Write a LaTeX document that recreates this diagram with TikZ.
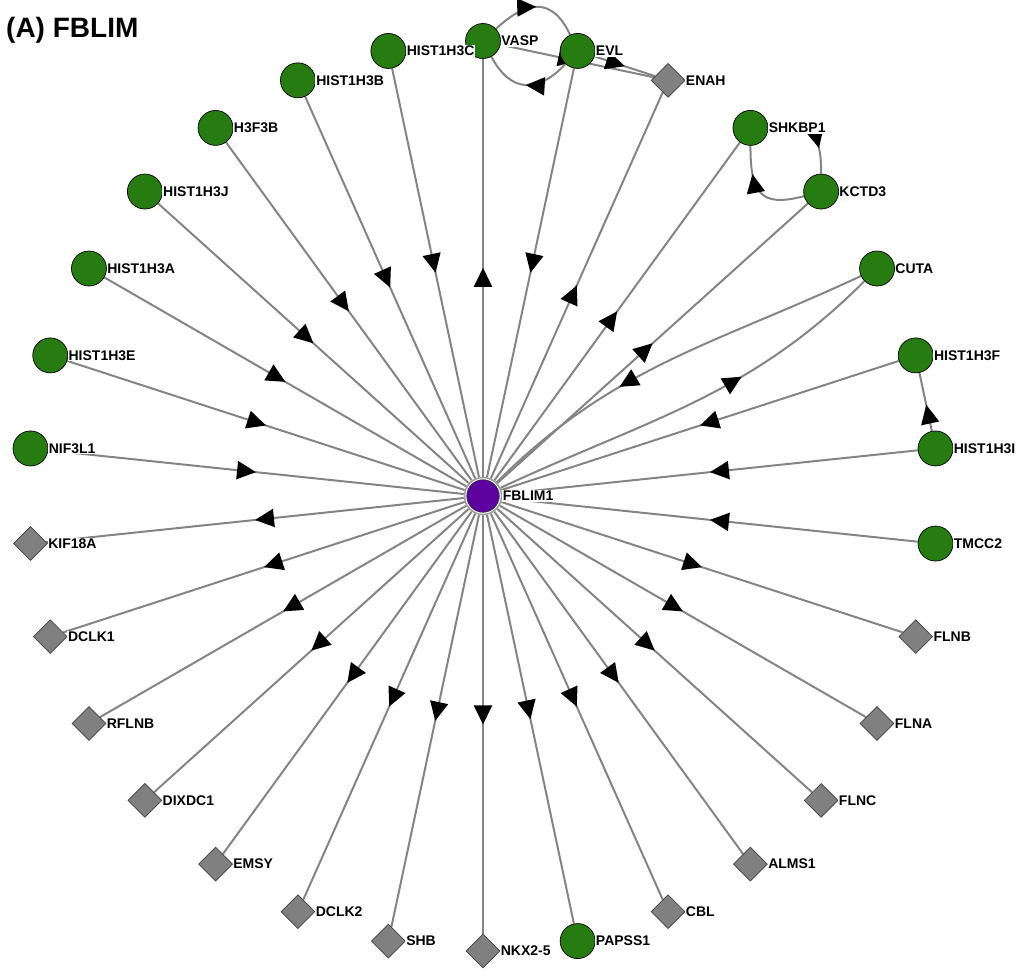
\documentclass[tikz,border=0pt]{standalone}
\usepackage{fontspec}
\setmainfont{Liberation Sans}
\usetikzlibrary{shapes.geometric,arrows.meta,decorations.markings,calc}
\pgfdeclarelayer{bg}
\pgfsetlayers{bg,main}
\definecolor{gcol}{RGB}{38,124,16}
\definecolor{dcol}{RGB}{128,128,128}
\definecolor{pcol}{RGB}{92,0,158}
\definecolor{ecol}{RGB}{132,132,132}
\begin{document}
\begin{tikzpicture}[x=1pt,y=1pt,
  gn/.style={circle, fill=gcol, draw=black, line width=0.7pt, minimum size=35pt, inner sep=0pt},
  dn/.style={diamond, fill=dcol, draw=black!75, line width=0.7pt, minimum size=34pt, inner sep=0pt},
  lbl/.style={font=\fontsize{14}{16}\selectfont\bfseries, fill=white, inner sep=0.8pt, anchor=west, xshift=-0.5pt},
  edge/.style={draw=ecol, line width=2pt},
  arr/.style={postaction={decorate, decoration={markings, mark=at position #1 with {\arrow[black]{Triangle[length=19pt,width=18pt]}}}}},
  arr/.default=0.5]
\useasboundingbox (0,0) rectangle (1017,-970);
\coordinate (C) at (483,-496);

% centre
\node[circle, minimum size=37pt, draw=gray!75, line width=1.6pt, fill=white, inner sep=0pt] (F) at (C) {};
\fill[pcol, draw=black!80, line width=0.5pt] (F.center) circle (16.3pt);

% ring nodes
\node[gn] (VASP) at ($(C)+(90:455)$) {};
\node[gn] (HIST1H3C) at ($(C)+(102:455)$) {};
\node[gn] (HIST1H3B) at ($(C)+(114:455)$) {};
\node[gn] (H3F3B) at ($(C)+(126:455)$) {};
\node[gn] (HIST1H3J) at ($(C)+(138:455)$) {};
\node[gn] (HIST1H3A) at ($(C)+(150:455)$) {};
\node[gn] (HIST1H3E) at ($(C)+(162:455)$) {};
\node[gn] (NIF3L1) at ($(C)+(174:455)$) {};
\node[dn] (KIF18A) at ($(C)+(186:455)$) {};
\node[dn] (DCLK1) at ($(C)+(198:455)$) {};
\node[dn] (RFLNB) at ($(C)+(210:455)$) {};
\node[dn] (DIXDC1) at ($(C)+(222:455)$) {};
\node[dn] (EMSY) at ($(C)+(234:455)$) {};
\node[dn] (DCLK2) at ($(C)+(246:455)$) {};
\node[dn] (SHB) at ($(C)+(258:455)$) {};
\node[dn] (NKX25) at ($(C)+(270:455)$) {};
\node[gn] (PAPSS1) at ($(C)+(282:455)$) {};
\node[dn] (CBL) at ($(C)+(294:455)$) {};
\node[dn] (ALMS1) at ($(C)+(306:455)$) {};
\node[dn] (FLNC) at ($(C)+(318:455)$) {};
\node[dn] (FLNA) at ($(C)+(330:455)$) {};
\node[dn] (FLNB) at ($(C)+(342:455)$) {};
\node[gn] (TMCC2) at ($(C)+(354:455)$) {};
\node[gn] (HIST1H3I) at ($(C)+(6:455)$) {};
\node[gn] (HIST1H3F) at ($(C)+(18:455)$) {};
\node[gn] (CUTA) at ($(C)+(30:455)$) {};
\node[gn] (KCTD3) at ($(C)+(42:455)$) {};
\node[gn] (SHKBP1) at ($(C)+(54:455)$) {};
\node[dn] (ENAH) at ($(C)+(66:455)$) {};
\node[gn] (EVL) at ($(C)+(78:455)$) {};

% edges
\begin{pgfonlayer}{bg}
\draw[edge,arr] (NIF3L1) -- (F);
\draw[edge,arr] (HIST1H3E) -- (F);
\draw[edge,arr] (HIST1H3A) -- (F);
\draw[edge,arr] (HIST1H3J) -- (F);
\draw[edge,arr] (H3F3B) -- (F);
\draw[edge,arr] (HIST1H3B) -- (F);
\draw[edge,arr] (HIST1H3C) -- (F);
\draw[edge,arr] (F) -- (VASP);
\draw[edge,arr] (EVL) -- (F);
\draw[edge,arr] (F) -- (ENAH);
\draw[edge,arr] (F) -- (SHKBP1);
\draw[edge,arr] (F) -- (KCTD3);
\draw[edge,arr=0.63] (CUTA) to[out=205,in=45] (F);
\draw[edge,arr=0.63] (F) to[out=25,in=225] (CUTA);
\draw[edge,arr] (HIST1H3F) -- (F);
\draw[edge,arr] (HIST1H3I) -- (F);
\draw[edge,arr] (TMCC2) -- (F);
\draw[edge,arr] (F) -- (FLNB);
\draw[edge,arr] (F) -- (FLNA);
\draw[edge,arr] (F) -- (FLNC);
\draw[edge,arr] (F) -- (ALMS1);
\draw[edge,arr] (F) -- (CBL);
\draw[edge,arr] (F) -- (PAPSS1);
\draw[edge,arr] (F) -- (NKX25);
\draw[edge,arr] (F) -- (SHB);
\draw[edge,arr] (F) -- (DCLK2);
\draw[edge,arr] (F) -- (EMSY);
\draw[edge,arr] (F) -- (DIXDC1);
\draw[edge,arr] (F) -- (RFLNB);
\draw[edge,arr] (F) -- (DCLK1);
\draw[edge,arr] (F) -- (KIF18A);
% side edges
\draw[edge,arr] (VASP) to[out=43,in=115,looseness=1.45] (EVL);
\draw[edge,arr] (EVL) to[out=227,in=298,looseness=1.4] (VASP);
\draw[edge,arr=0.5] (VASP) -- (ENAH);
\draw[edge,arr] (EVL) -- (ENAH);
\draw[edge,arr=0.7] (SHKBP1) to[out=0,in=90,looseness=1.6] (KCTD3);
\draw[edge,arr=0.7] (KCTD3) to[out=195,in=270,looseness=1.6] (SHKBP1);
\draw[edge,arr=0.45] (HIST1H3I) -- (HIST1H3F);
\end{pgfonlayer}

% labels
\node[lbl] (lF) at (F.east) {FBLIM1};
\node[lbl] (lVASP) at (VASP.east) {VASP};
\node[lbl] (lHIST1H3C) at (HIST1H3C.east) {HIST1H3C};
\node[lbl] (lHIST1H3B) at (HIST1H3B.east) {HIST1H3B};
\node[lbl] (lH3F3B) at (H3F3B.east) {H3F3B};
\node[lbl] (lHIST1H3J) at (HIST1H3J.east) {HIST1H3J};
\node[lbl] (lHIST1H3A) at (HIST1H3A.east) {HIST1H3A};
\node[lbl] (lHIST1H3E) at (HIST1H3E.east) {HIST1H3E};
\node[lbl] (lNIF3L1) at (NIF3L1.east) {NIF3L1};
\node[lbl] (lKIF18A) at (KIF18A.east) {KIF18A};
\node[lbl] (lDCLK1) at (DCLK1.east) {DCLK1};
\node[lbl] (lRFLNB) at (RFLNB.east) {RFLNB};
\node[lbl] (lDIXDC1) at (DIXDC1.east) {DIXDC1};
\node[lbl] (lEMSY) at (EMSY.east) {EMSY};
\node[lbl] (lDCLK2) at (DCLK2.east) {DCLK2};
\node[lbl] (lSHB) at (SHB.east) {SHB};
\node[lbl] (lNKX25) at (NKX25.east) {NKX2-5};
\node[lbl] (lPAPSS1) at (PAPSS1.east) {PAPSS1};
\node[lbl] (lCBL) at (CBL.east) {CBL};
\node[lbl] (lALMS1) at (ALMS1.east) {ALMS1};
\node[lbl] (lFLNC) at (FLNC.east) {FLNC};
\node[lbl] (lFLNA) at (FLNA.east) {FLNA};
\node[lbl] (lFLNB) at (FLNB.east) {FLNB};
\node[lbl] (lTMCC2) at (TMCC2.east) {TMCC2};
\node[lbl] (lHIST1H3I) at (HIST1H3I.east) {HIST1H3I};
\node[lbl] (lHIST1H3F) at (HIST1H3F.east) {HIST1H3F};
\node[lbl] (lCUTA) at (CUTA.east) {CUTA};
\node[lbl] (lKCTD3) at (KCTD3.east) {KCTD3};
\node[lbl] (lSHKBP1) at (SHKBP1.east) {SHKBP1};
\node[lbl] (lENAH) at (ENAH.east) {ENAH};
\node[lbl] (lEVL) at (EVL.east) {EVL};

% title
\node[font=\fontsize{28}{30}\selectfont\bfseries, anchor=base west, inner sep=0pt] (title) at (6,-37) {(A) FBLIM};
\end{tikzpicture}
\end{document}
